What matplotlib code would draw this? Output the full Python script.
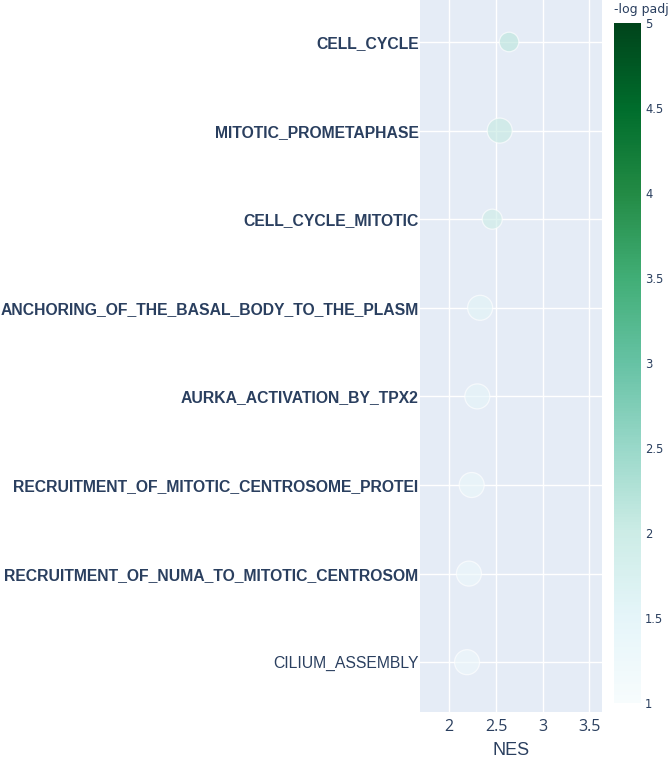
import matplotlib
matplotlib.use("Agg")
import matplotlib.pyplot as plt
import matplotlib as mpl
import numpy as np

# ---- data ----
pathways = [
    "CELL_CYCLE",
    "MITOTIC_PROMETAPHASE",
    "CELL_CYCLE_MITOTIC",
    "ANCHORING_OF_THE_BASAL_BODY_TO_THE_PLASM",
    "AURKA_ACTIVATION_BY_TPX2",
    "RECRUITMENT_OF_MITOTIC_CENTROSOME_PROTEI",
    "RECRUITMENT_OF_NUMA_TO_MITOTIC_CENTROSOM",
    "CILIUM_ASSEMBLY",
]
bold_label = [True, True, True, True, True, True, True, False]
nes = [2.64, 2.54, 2.46, 2.33, 2.30, 2.24, 2.21, 2.19]
neg_log_padj = [2.15, 2.05, 1.95, 1.55, 1.5, 1.35, 1.3, 1.25]
marker_diam = [19.5, 25, 20, 25, 25, 25, 25, 25]
x_ticks = [2, 2.5, 3, 3.5]
x_tick_labels = ["2", "2.5", "3", "3.5"]
cbar_ticks = [1, 1.5, 2, 2.5, 3, 3.5, 4, 4.5, 5]
cbar_tick_labels = ["1", "1.5", "2", "2.5", "3", "3.5", "4", "4.5", "5"]

W, H = 669, 758
fig = plt.figure(figsize=(W / 100, H / 100), dpi=100)
txt = "#2a3f5f"

ax = fig.add_axes([420 / W, (H - 712) / H, 182 / W, 712 / H])
ax.set_facecolor("#E5ECF6")
for s in ax.spines.values():
    s.set_visible(False)

cmap = mpl.colormaps["BuGn"]
norm = mpl.colors.Normalize(vmin=1, vmax=5)
ypos = np.arange(len(pathways))
sizes = [(d * 0.72) ** 2 for d in marker_diam]
ax.scatter(nes, ypos, s=sizes, c=neg_log_padj, cmap=cmap, norm=norm,
           alpha=0.65, edgecolors="white", linewidths=0.9, zorder=3)

ax.set_xlim(1.686, 3.636)
ax.set_ylim(7.562, -0.474)
ax.set_xticks(x_ticks)
ax.set_xticklabels(x_tick_labels, fontsize=11.5, color=txt, family="Open Sans")
ax.set_yticks(ypos)
ax.set_yticklabels(pathways, fontsize=11.3, color=txt, family="Liberation Sans")
for lab, b in zip(ax.get_yticklabels(), bold_label):
    lab.set_fontweight("bold" if b else "normal")
ax.tick_params(axis="both", length=0)
ax.tick_params(axis="y", pad=1)
ax.tick_params(axis="x", pad=5)
ax.grid(True, color="white", linewidth=1.0, zorder=0)
ax.set_axisbelow(True)
ax.set_xlabel("NES", fontsize=13, color=txt, family="Liberation Sans", labelpad=5)

cax = fig.add_axes([614 / W, (H - 703) / H, 27 / W, 680 / H])
cb = mpl.colorbar.ColorbarBase(cax, cmap=cmap, norm=norm, orientation="vertical")
cb.outline.set_visible(False)
cb.set_ticks(cbar_ticks)
cb.set_ticklabels(cbar_tick_labels)
cax.tick_params(length=0, labelsize=8.3, labelcolor=txt, pad=3)
for lab in cax.get_yticklabels():
    lab.set_family("DejaVu Sans")
fig.text(614 / W, 1 - 10 / H, "-log padj", fontsize=9, color=txt,
         family="DejaVu Sans", ha="left", va="center")

fig.savefig("out.png", dpi=100)
